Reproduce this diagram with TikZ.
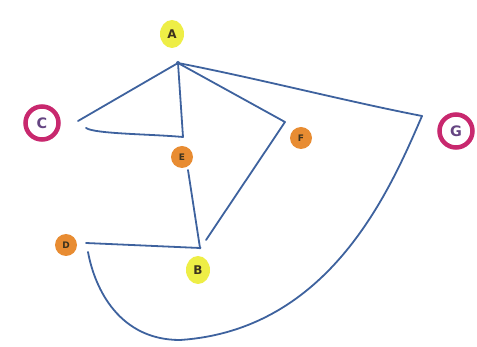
\documentclass[tikz,border=0pt]{standalone}
\usepackage{fontspec}
\usetikzlibrary{shapes.geometric}
\setmainfont{DejaVu Sans}
\definecolor{edgeblue}{RGB}{62,98,158}
\definecolor{hiyel}{RGB}{238,238,70}
\definecolor{hiorange}{RGB}{232,140,50}
\definecolor{ringmag}{RGB}{200,40,110}
\definecolor{txtdark}{RGB}{60,50,30}
\begin{document}
\begin{tikzpicture}[x=1pt,y=-1pt,
  edge/.style={draw=edgeblue,line width=1.8pt,line cap=round,line join=round},
  ylab/.style={ellipse,fill=hiyel,inner sep=1pt,minimum width=24pt,minimum height=28pt,font=\bfseries\large,text=txtdark},
  olab/.style={circle,fill=hiorange,inner sep=1pt,minimum size=22pt,font=\bfseries\small,text=txtdark},
  ring/.style={circle,draw=ringmag,line width=4.5pt,minimum size=33pt,inner sep=0pt,font=\bfseries\Large,text=edgeblue!70!purple},
  vtx/.style={circle,fill=edgeblue,inner sep=0pt,minimum size=4pt}]
\useasboundingbox (0,0) rectangle (477,347);
% labels
\node[ylab] (la) at (172,34) {A};
\node[ylab] (lb) at (198,270) {B};
\node[ring] (lc) at (42,123) {C};
\node[olab] (ld) at (66,245) {D};
\node[olab] (le) at (182,157) {E};
\node[olab] (lf) at (301,138) {F};
\node[ring] (lg) at (456,131) {G};
% vertices
\node[vtx] (a) at (178,63) {};
\coordinate (c1) at (78,121);
\coordinate (c2) at (86,128);
\coordinate (e) at (183,137);
\coordinate (e2) at (188,170);
\node[vtx,minimum size=3pt] (b) at (200,248) {};
\coordinate (f) at (285,122);
\coordinate (g) at (422,116);
\coordinate (d) at (86,243);
\coordinate (d2) at (88,252);
% edges
\draw[edge] (a.center) -- (c1);
\draw[edge] (c2) .. controls (95,134) and (150,134) .. (e);
\draw[edge] (a.center) -- (e);
\draw[edge] (e2) -- (b.center);
\draw[edge] (a.center) -- (f) -- (206,240);
\draw[edge] (a.center) .. controls (260,79) and (345,101) .. (g);
\draw[edge] (d) -- (b.center);
\draw[edge] (g) .. controls (390,190) and (330,330) .. (180,340) .. controls (120,340) and (95,290) .. (d2);
\end{tikzpicture}
\end{document}
